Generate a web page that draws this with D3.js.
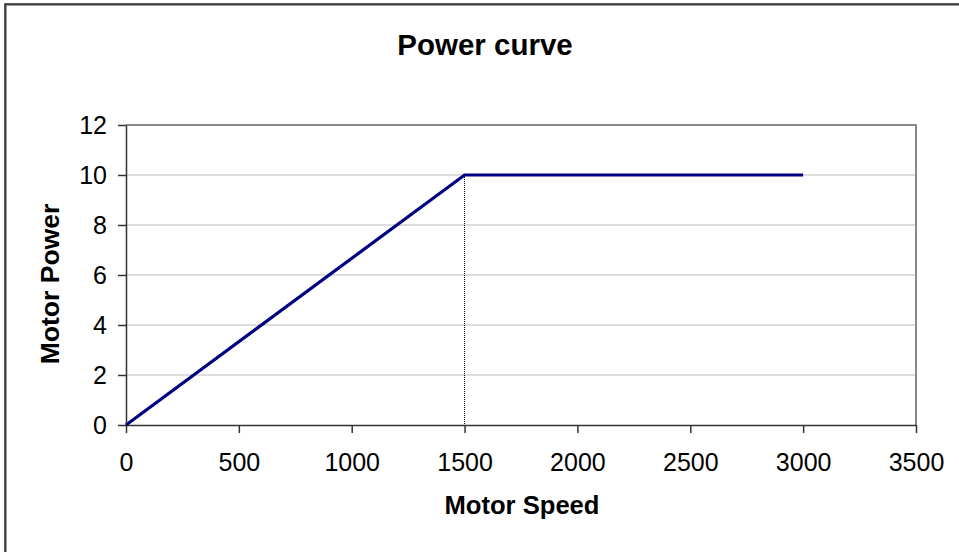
<!DOCTYPE html>
<html>
<head>
<meta charset="utf-8">
<script src="https://cdn.jsdelivr.net/npm/d3@7"></script>
<style>
  body { margin: 0; background: #fff; }
  text { font-family: Arial, "Liberation Sans", sans-serif; fill: #000; }
</style>
</head>
<body>
<div id="chart"></div>
<script>
// data
const speeds = [0, 1500, 3000];
const powers = [0, 10, 10];
const dropSpeed = 1500;     // dotted marker line
const xTicks = [0, 500, 1000, 1500, 2000, 2500, 3000, 3500];
const yTicks = [0, 2, 4, 6, 8, 10, 12];

const W = 959, H = 552;
const margin = { top: 125, right: 43, bottom: 127, left: 126 },
      width = W - margin.left - margin.right,
      height = H - margin.top - margin.bottom;

const root = d3.select("#chart").append("svg")
    .attr("width", W).attr("height", H);

// outer frame (runs off the bottom/right edge)
root.append("rect")
    .attr("x", 6).attr("y", 5).attr("width", W + 10).attr("height", H + 10)
    .attr("fill", "none").attr("stroke", "#999").attr("stroke-width", 2);
root.append("rect")
    .attr("x", 5).attr("y", 4).attr("width", W + 10).attr("height", H + 10)
    .attr("fill", "none").attr("stroke", "#222").attr("stroke-width", 1.5);

const svg = root.append("g")
    .attr("transform", `translate(${margin.left},${margin.top})`);

const x = d3.scaleLinear().domain([0, 3500]).range([0, width]);
const y = d3.scaleLinear().domain([0, 12]).range([height, 0]);

// gridlines
svg.append("g")
   .selectAll("line")
   .data(yTicks.filter(d => d > 0 && d < 12))
   .join("line")
   .attr("x1", 0).attr("x2", width)
   .attr("y1", d => y(d)).attr("y2", d => y(d))
   .attr("stroke", "#ddd").attr("stroke-width", 2);

// top and right plot edges
svg.append("path")
   .attr("d", `M0,0H${width}V${height}`)
   .attr("fill", "none").attr("stroke", "#888").attr("stroke-width", 2);

// axes
const fmt = d3.format("d");
const xAxis = svg.append("g")
   .attr("transform", `translate(0,${height})`)
   .call(d3.axisBottom(x).tickValues(xTicks).tickFormat(fmt)
           .tickSize(8).tickPadding(20).tickSizeOuter(0));
const yAxis = svg.append("g")
   .call(d3.axisLeft(y).tickValues(yTicks).tickFormat(fmt)
           .tickSize(8).tickPadding(11).tickSizeOuter(0));

[xAxis, yAxis].forEach(a => {
    a.select(".domain").attr("stroke", "#333").attr("stroke-width", 1.5);
    a.selectAll(".tick line").attr("stroke", "#333").attr("stroke-width", 1.5);
    a.selectAll(".tick text")
     .attr("font-size", 25).attr("font-family", "Arial, 'Liberation Sans', sans-serif")
     .attr("fill", "#000");
});
yAxis.selectAll(".tick text").attr("dy", "0.35em");

// dotted drop line
const dropPower = powers[speeds.indexOf(dropSpeed)];
svg.append("line")
   .attr("x1", x(dropSpeed)).attr("x2", x(dropSpeed))
   .attr("y1", y(dropPower)).attr("y2", y(0))
   .attr("stroke", "#000").attr("stroke-width", 1)
   .attr("stroke-dasharray", "1,1");

// power curve
const pts = speeds.map((s, i) => [s, powers[i]]);
svg.append("path")
   .datum(pts)
   .attr("fill", "none")
   .attr("stroke", "#000080")
   .attr("stroke-width", 3.2)
   .attr("d", d3.line().x(d => x(d[0])).y(d => y(d[1])));

// titles
root.append("text")
    .attr("x", 485).attr("y", 55)
    .attr("text-anchor", "middle")
    .attr("font-size", 29.5).attr("font-weight", "bold")
    .text("Power curve");

root.append("text")
    .attr("x", 522).attr("y", 514)
    .attr("text-anchor", "middle")
    .attr("font-size", 25.6).attr("font-weight", "bold")
    .text("Motor Speed");

root.append("text")
    .attr("transform", `translate(59,284) rotate(-90)`)
    .attr("text-anchor", "middle")
    .attr("font-size", 26.5).attr("font-weight", "bold")
    .text("Motor Power");
</script>
</body>
</html>
